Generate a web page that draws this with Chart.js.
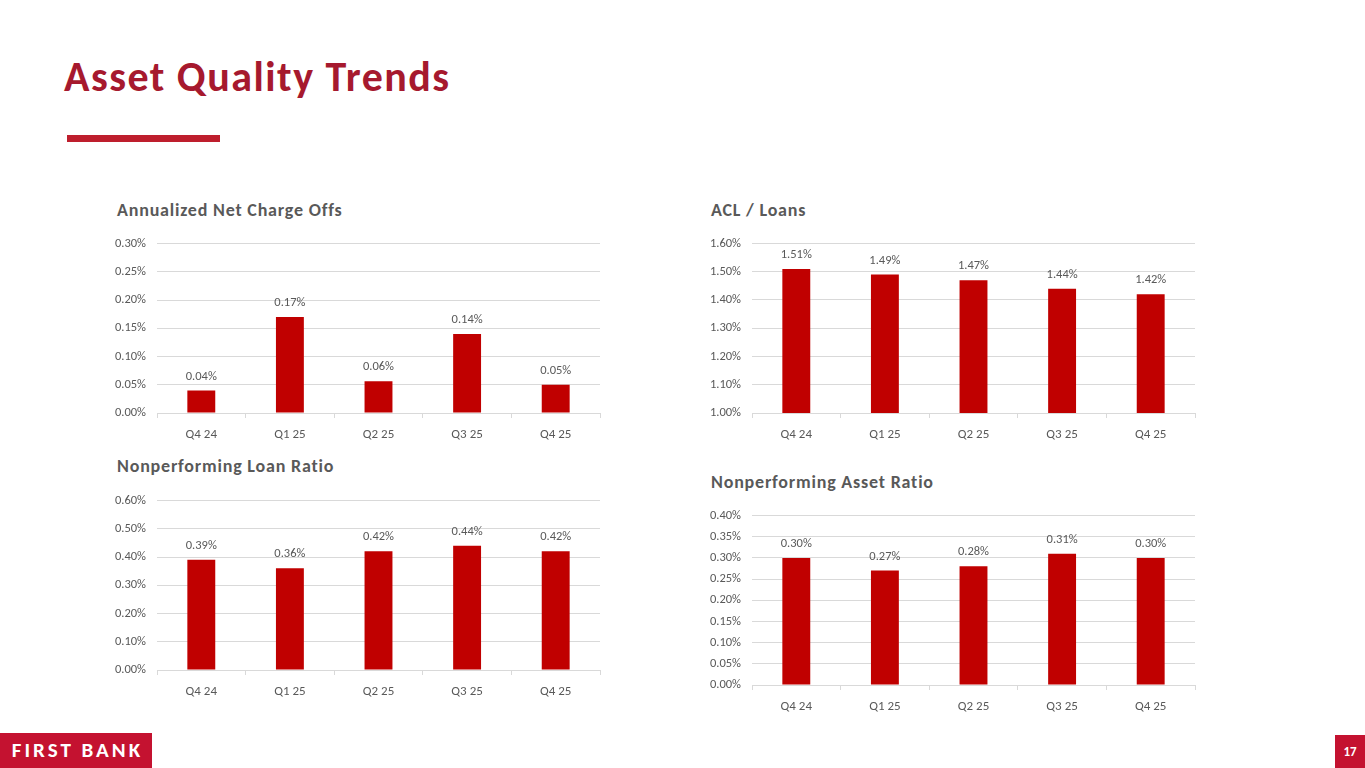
<!DOCTYPE html>
<html>
<head>
<meta charset="utf-8">
<title>Asset Quality Trends</title>
<script src="https://cdn.jsdelivr.net/npm/chart.js@4.4.1/dist/chart.umd.min.js"></script>
<style>
  body { margin: 0; background: #fff; font-family: Carlito, Lato, "Open Sans", sans-serif; }
  #page { position: relative; width: 1365px; height: 768px; overflow: hidden; background: #fff; }
  .title { position: absolute; left: 64px; top: 51px; font-size: 42px; letter-spacing: 1.5px; font-weight: 700; color: #A6192E; white-space: nowrap; }
  .rule { position: absolute; left: 67px; top: 135px; width: 153px; height: 7px; background: #BE1E2D; }
  .ctitle { position: absolute; font-size: 18px; letter-spacing: 0.8px; font-weight: 700; color: #595959; white-space: nowrap; }
  .box { position: absolute; width: 510px; height: 225px; }
  .logo { position: absolute; left: 0; top: 733px; width: 152px; height: 35px; background: #C41230; color: #fff;
          font-weight: 700; font-size: 21px; letter-spacing: 3px; text-indent: 3px; line-height: 35px; text-align: center; }
  .pnum { position: absolute; left: 1335px; top: 735px; width: 30px; height: 33px; background: #C41230; color: #fff;
          font-weight: 700; font-size: 13px; line-height: 33px; text-align: center; }
</style>
</head>
<body>
<div id="page">
  <div class="title">Asset Quality Trends</div>
  <div class="rule"></div>

  <div class="ctitle" style="left:117px; top:199px;">Annualized Net Charge Offs</div>
  <div class="ctitle" style="left:711px; top:199px;">ACL / Loans</div>
  <div class="ctitle" style="left:117px; top:455px;">Nonperforming Loan Ratio</div>
  <div class="ctitle" style="left:711px; top:471px;">Nonperforming Asset Ratio</div>

  <div class="box" style="left:100px; top:225px;"><canvas id="ncoChart"></canvas></div>
  <div class="box" style="left:695px; top:225px;"><canvas id="aclChart"></canvas></div>
  <div class="box" style="left:100px; top:482px;"><canvas id="nplChart"></canvas></div>
  <div class="box" style="left:695px; top:497px;"><canvas id="npaChart"></canvas></div>

  <div class="logo">FIRST BANK</div>
  <div class="pnum">17</div>
</div>

<script>
var quarters = ['Q4 24', 'Q1 25', 'Q2 25', 'Q3 25', 'Q4 25'];

// values in percent
var net_charge_offs = [0.04, 0.17, 0.056, 0.14, 0.05];
var acl_loans = [1.51, 1.49, 1.47, 1.44, 1.42];
var npl_ratio = [0.39, 0.36, 0.42, 0.44, 0.42];
var npa_ratio = [0.30, 0.27, 0.28, 0.31, 0.30];

var font_family = "Carlito, Lato, 'Open Sans', sans-serif";
var txt_color = '#595959';
var grid_color = '#D9D9D9';
var bar_color = '#C00000';

// draws the value above each bar
var barLabels = {
  id: 'barLabels',
  afterDatasetsDraw: function (chart) {
    var ctx = chart.ctx;
    var meta = chart.getDatasetMeta(0);
    var vals = chart.data.datasets[0].data;
    ctx.save();
    ctx.font = '12.5px ' + font_family;
    ctx.fillStyle = txt_color;
    ctx.textAlign = 'center';
    ctx.textBaseline = 'middle';
    meta.data.forEach(function (bar, i) {
      ctx.fillText(vals[i].toFixed(2) + '%', bar.x, bar.y - 14);
    });
    ctx.restore();
  }
};

function make_chart(id, values, min, max, step) {
  var ctx = document.getElementById(id).getContext('2d');
  return new Chart(ctx, {
    type: 'bar',
    data: {
      labels: quarters,
      datasets: [{
        data: values,
        backgroundColor: bar_color,
        barPercentage: 0.63,
        categoryPercentage: 0.5
      }]
    },
    options: {
      responsive: true,
      maintainAspectRatio: false,
      animation: false,
      layout: { padding: { top: 18, right: 10, left: 0, bottom: 0 } },
      plugins: {
        legend: { display: false },
        tooltip: { enabled: false }
      },
      scales: {
        x: {
          afterFit: function (s) { s.height = 37; },
          grid: { display: true, drawOnChartArea: false, drawTicks: true, tickLength: 5, color: grid_color, offset: true },
          border: { display: true, color: grid_color },
          ticks: { color: txt_color, padding: 9, font: { family: font_family, size: 13 } }
        },
        y: {
          min: min,
          max: max,
          afterFit: function (s) { s.width = 57; },
          grid: { color: grid_color, drawTicks: false },
          border: { display: false },
          ticks: {
            stepSize: step,
            padding: 11,
            color: txt_color,
            font: { family: font_family, size: 12.5 },
            callback: function (v) { return v.toFixed(2) + '%'; }
          }
        }
      }
    },
    plugins: [barLabels]
  });
}

var ncoChart = make_chart('ncoChart', net_charge_offs, 0, 0.3, 0.05);
var aclChart = make_chart('aclChart', acl_loans, 1.0, 1.6, 0.1);
var nplChart = make_chart('nplChart', npl_ratio, 0, 0.6, 0.1);
var npaChart = make_chart('npaChart', npa_ratio, 0, 0.4, 0.05);
</script>
</body>
</html>
